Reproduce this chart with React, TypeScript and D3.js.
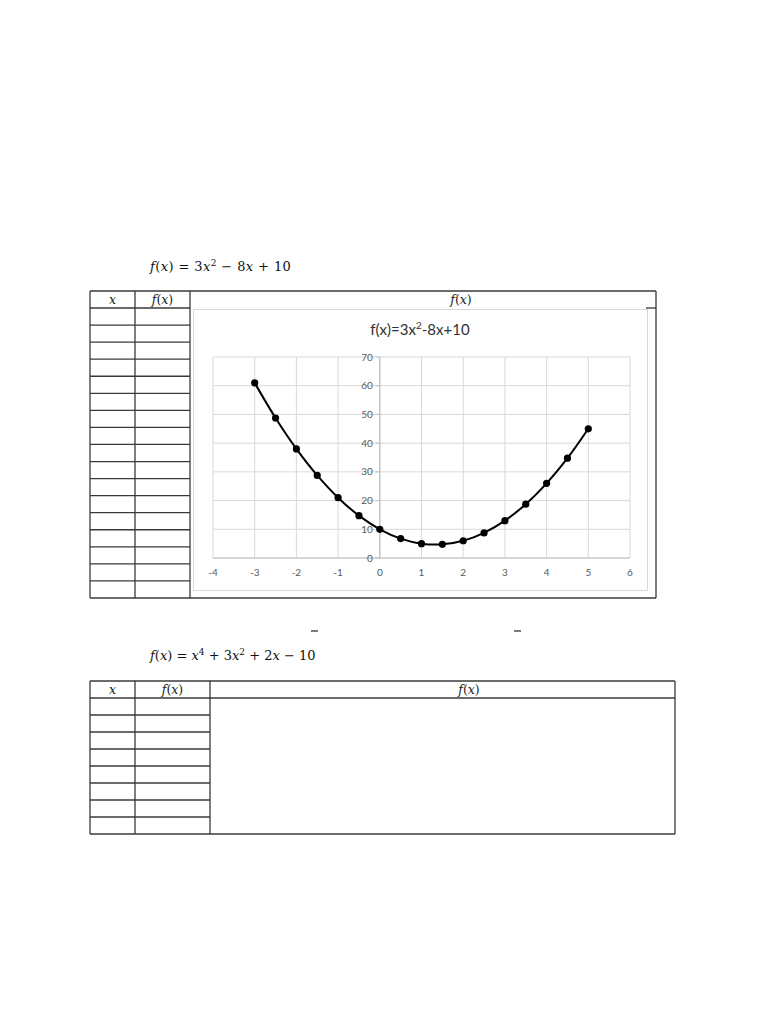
import React from "react";
import * as d3 from "d3";

const xValues = [-3, -2.5, -2, -1.5, -1, -0.5, 0, 0.5, 1, 1.5, 2, 2.5, 3, 3.5, 4, 4.5, 5];
const yValues = [61, 48.75, 38, 28.75, 21, 14.75, 10, 6.75, 5, 4.75, 6, 8.75, 13, 18.75, 26, 34.75, 45];
const xTicks = [-4, -3, -2, -1, 0, 1, 2, 3, 4, 5, 6];
const yTicks = [0, 10, 20, 30, 40, 50, 60, 70];
const table1Rows = 17;
const table2Rows = 8;

const serif = "'DejaVu Serif', 'Liberation Serif', serif";
const sans = "Lato, 'Open Sans', 'Liberation Sans', sans-serif";
const lineCol = "#3a3a3a";

function Fx({ x, y, anchor = "middle", size = 12.5 }: { x: number; y: number; anchor?: string; size?: number }) {
  return (
    <text x={x} y={y} textAnchor={anchor as any} fontFamily={serif} fontSize={size} fill="#222">
      <tspan fontStyle="italic">f</tspan>(<tspan fontStyle="italic">x</tspan>)
    </text>
  );
}

export default function App() {
  const x = d3.scaleLinear().domain([-4, 6]).range([213, 630]);
  const y = d3.scaleLinear().domain([0, 70]).range([558, 357]);
  const pts = xValues.map((v, i) => [v, yValues[i]] as [number, number]);
  const line = d3
    .line<[number, number]>()
    .x((d) => x(d[0]))
    .y((d) => y(d[1]))
    .curve(d3.curveCatmullRom.alpha(0.5));

  const t1 = { l: 90, r: 656, t: 291, h: 308, b: 598, c1: 135, c2: 190 };
  const t1RowH = (t1.b - t1.h) / table1Rows;
  const t2 = { l: 90, r: 675, t: 681, h: 698, b: 834, c1: 135, c2: 210 };
  const t2RowH = (t2.b - t2.h) / table2Rows;

  return (
    <svg width={768} height={1024} style={{ position: "absolute", left: 0, top: 0, background: "#fff" }}>
      {/* formula 1 */}
      <text x={150} y={271} fontFamily={serif} fontSize={13} fill="#111" letterSpacing={0.4}>
        <tspan fontStyle="italic">f</tspan>(<tspan fontStyle="italic">x</tspan>) = 3<tspan fontStyle="italic">x</tspan>
        <tspan dy={-5} fontSize={9}>2</tspan>
        <tspan dy={5}> − 8</tspan><tspan fontStyle="italic">x</tspan> + 10
      </text>

      {/* table 1 */}
      <g stroke={lineCol} strokeWidth={1.3} fill="none">
        <line x1={t1.l} y1={t1.t} x2={t1.r} y2={t1.t} />
        <line x1={t1.l} y1={t1.b} x2={t1.r} y2={t1.b} />
        <line x1={t1.l} y1={t1.t} x2={t1.l} y2={t1.b} />
        <line x1={t1.r} y1={t1.t} x2={t1.r} y2={t1.b} />
        <line x1={t1.c1} y1={t1.t} x2={t1.c1} y2={t1.b} />
        <line x1={t1.c2} y1={t1.t} x2={t1.c2} y2={t1.b} />
        <line x1={t1.r - 10} y1={t1.h} x2={t1.r} y2={t1.h} />
        {d3.range(0, table1Rows).map((i) => (
          <line key={i} x1={t1.l} y1={t1.h + i * t1RowH} x2={t1.c2} y2={t1.h + i * t1RowH} />
        ))}
      </g>
      <text x={112.5} y={304} textAnchor="middle" fontFamily={serif} fontSize={12.5} fontStyle="italic" fill="#222">x</text>
      <Fx x={162.5} y={304} />
      <Fx x={461} y={304} />

      {/* chart box */}
      <rect x={193.5} y={309.5} width={454} height={281} fill="#fff" stroke="#d9d9d9" strokeWidth={1} />
      <text x={420} y={335} textAnchor="middle" fontFamily={sans} fontSize={15} fill="#333">
        f(x)=3x<tspan dy={-6} fontSize={10}>2</tspan><tspan dy={6}>-8x+10</tspan>
      </text>
      <g stroke="#d9d9d9" strokeWidth={1}>
        {xTicks.map((t) => (
          <line key={"gx" + t} x1={x(t)} x2={x(t)} y1={y(70)} y2={y(0)} />
        ))}
        {yTicks.map((t) => (
          <line key={"gy" + t} x1={x(-4)} x2={x(6)} y1={y(t)} y2={y(t)} />
        ))}
      </g>
      <line x1={x(0)} x2={x(0)} y1={y(70)} y2={y(0)} stroke="#bfbfbf" strokeWidth={1.2} />
      <line x1={x(-4)} x2={x(6)} y1={y(0)} y2={y(0)} stroke="#bfbfbf" strokeWidth={1.2} />
      <g stroke="#bfbfbf" strokeWidth={1}>
        {yTicks.map((t) => (
          <line key={"ty" + t} x1={x(0) - 4} x2={x(0)} y1={y(t)} y2={y(t)} />
        ))}
      </g>
      <g fontFamily={sans} fontSize={10} fill="#595959">
        {yTicks.map((t) => (
          <text key={"ly" + t} x={x(0) - 7} y={y(t) + 3.5} textAnchor="end">{t}</text>
        ))}
        {xTicks.map((t) => (
          <text key={"lx" + t} x={x(t)} y={576} textAnchor="middle">{t}</text>
        ))}
      </g>
      <path d={line(pts) || ""} fill="none" stroke="#000" strokeWidth={2} />
      {pts.map((p, i) => (
        <circle key={i} cx={x(p[0])} cy={y(p[1])} r={3.6} fill="#000" />
      ))}

      {/* stray dashes */}
      <line x1={311} x2={318} y1={631} y2={631} stroke="#222" strokeWidth={1.2} />
      <line x1={514} x2={521} y1={631} y2={631} stroke="#222" strokeWidth={1.2} />

      {/* formula 2 */}
      <text x={150} y={660} fontFamily={serif} fontSize={13} fill="#111">
        <tspan fontStyle="italic">f</tspan>(<tspan fontStyle="italic">x</tspan>) = <tspan fontStyle="italic">x</tspan>
        <tspan dy={-5} fontSize={9}>4</tspan>
        <tspan dy={5}> + 3</tspan><tspan fontStyle="italic">x</tspan>
        <tspan dy={-5} fontSize={9}>2</tspan>
        <tspan dy={5}> + 2</tspan><tspan fontStyle="italic">x</tspan> − 10
      </text>

      {/* table 2 */}
      <g stroke={lineCol} strokeWidth={1.3} fill="none">
        <line x1={t2.l} y1={t2.t} x2={t2.r} y2={t2.t} />
        <line x1={t2.l} y1={t2.h} x2={t2.r} y2={t2.h} />
        <line x1={t2.l} y1={t2.b} x2={t2.r} y2={t2.b} />
        <line x1={t2.l} y1={t2.t} x2={t2.l} y2={t2.b} />
        <line x1={t2.r} y1={t2.t} x2={t2.r} y2={t2.b} />
        <line x1={t2.c1} y1={t2.t} x2={t2.c1} y2={t2.b} />
        <line x1={t2.c2} y1={t2.t} x2={t2.c2} y2={t2.b} />
        {d3.range(1, table2Rows).map((i) => (
          <line key={i} x1={t2.l} y1={t2.h + i * t2RowH} x2={t2.c2} y2={t2.h + i * t2RowH} />
        ))}
      </g>
      <text x={112.5} y={694} textAnchor="middle" fontFamily={serif} fontSize={12.5} fontStyle="italic" fill="#222">x</text>
      <Fx x={172.5} y={694} />
      <Fx x={469} y={694} />
    </svg>
  );
}
